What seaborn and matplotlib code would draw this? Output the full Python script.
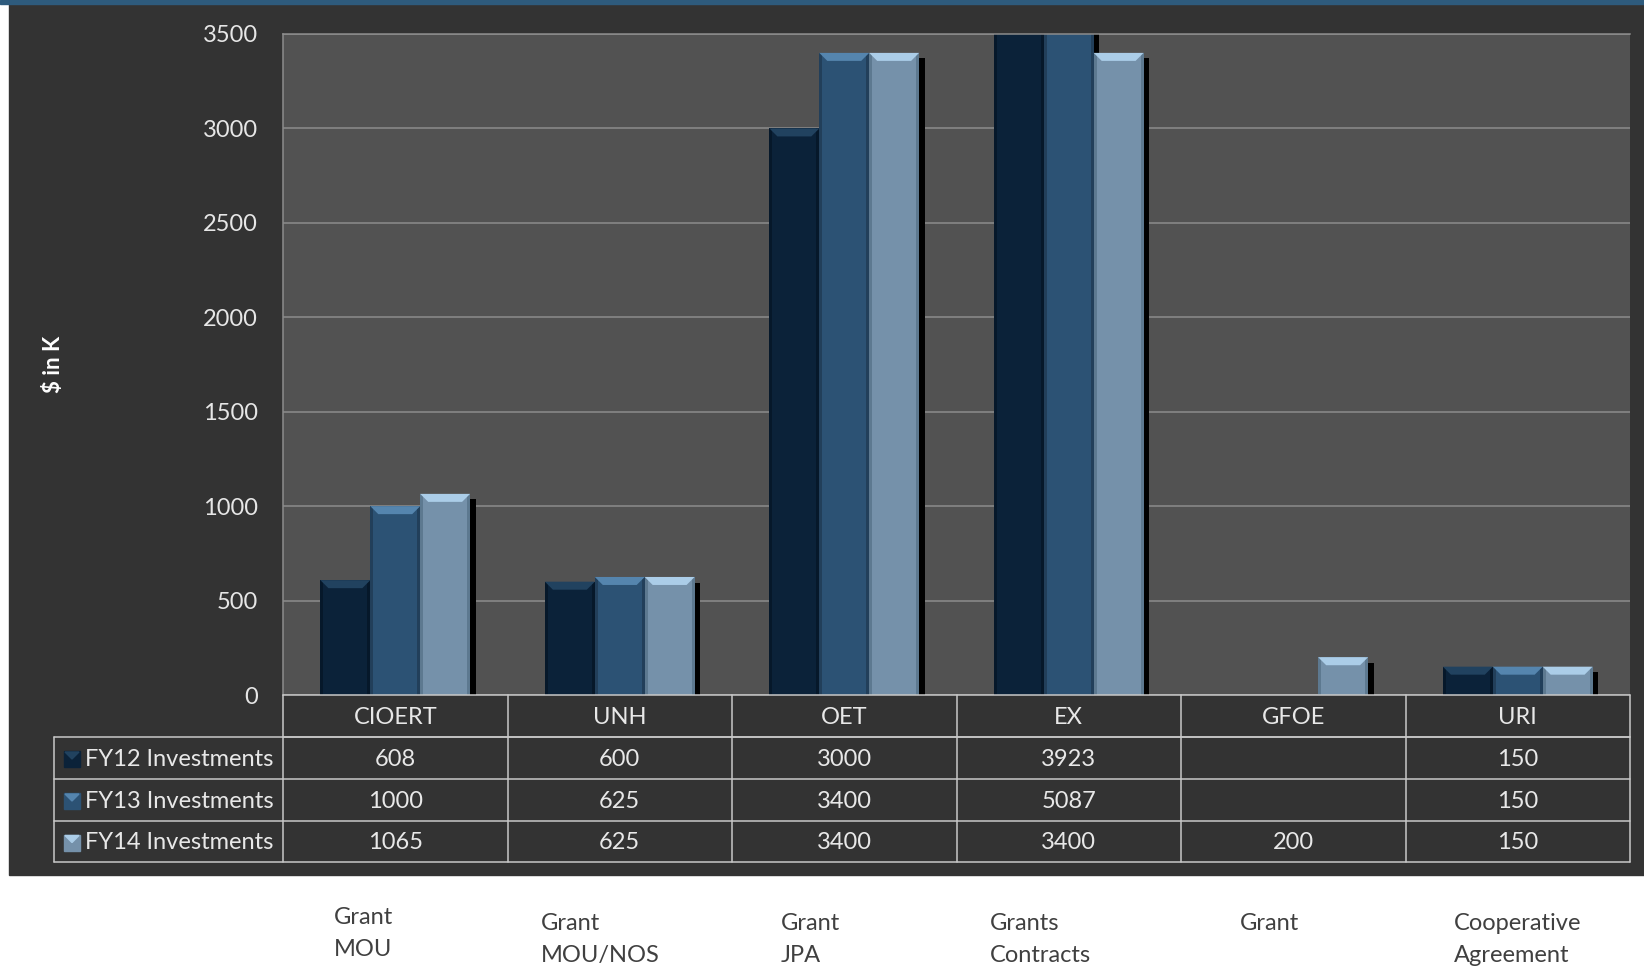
import numpy as np
import pandas as pd
import seaborn as sns
import matplotlib.pyplot as plt
from matplotlib import patheffects
from matplotlib.colors import to_rgba
from matplotlib.patches import Rectangle, Polygon
from matplotlib.lines import Line2D
from matplotlib.transforms import blended_transform_factory

# data
partners = ["CIOERT", "UNH", "OET", "EX", "GFOE", "URI"]
fy12 = [608, 600, 3000, 3923, np.nan, 150]
fy13 = [1000, 625, 3400, 5087, np.nan, 150]
fy14 = [1065, 625, 3400, 3400, 200, 150]
series = ["FY12 Investments", "FY13 Investments", "FY14 Investments"]
funding_types = ["Grant\nMOU", "Grant\nMOU/NOS", "Grant\nJPA",
                 "Grants\nContracts", "Grant", "Cooperative\nAgreement"]
yticks = [0, 500, 1000, 1500, 2000, 2500, 3000, 3500]

colors = ["#0b2239", "#2c5274", "#7591aa"]
bevel_colors = ["#21425f", "#5585ae", "#abcde8"]
side_colors = ["#06182a", "#223f5a", "#5d7990"]

rows = []
for name, vals in zip(series, [fy12, fy13, fy14]):
    for p, v in zip(partners, vals):
        rows.append({"partner": p, "series": name, "value": v})
df = pd.DataFrame(rows)

sns.set_style("dark")
plt.rcParams["font.family"] = ["Lato", "DejaVu Sans"]

W, H = 1644, 968
fig = plt.figure(figsize=(W / 100, H / 100), dpi=100)
fig.patch.set_facecolor("white")


def fx(px):
    return px / W


def fy(py):
    return 1 - py / H


# dark slide panel and blue stripe
fig.add_artist(Rectangle((fx(9), fy(875)), fx(W - 9), (875 - 4) / H,
                         transform=fig.transFigure, color="#333333", zorder=-10))
fig.add_artist(Rectangle((0, fy(4)), 1, 4 / H, transform=fig.transFigure,
                         color="#2e5b7d", zorder=-9))

L, R, T, B = 283, 1630, 34, 695
ax = fig.add_axes([fx(L), fy(B), fx(R - L), (B - T) / H])
ax.set_facecolor("#525252")

sns.barplot(data=df, x="partner", y="value", hue="series", order=partners,
            hue_order=series, palette=colors, width=2 / 3, saturation=1,
            linewidth=0, errorbar=None, legend=False, ax=ax)

ax.set_ylim(0, 3500)
ax.set_xlim(-0.5, len(partners) - 0.5)
ax.set_yticks(yticks)
ax.yaxis.grid(True, color="#8c8c8c", lw=1.1)
ax.xaxis.grid(False)
ax.set_axisbelow(True)
ax.tick_params(axis="y", length=0, pad=18, labelsize=17, labelcolor="#e6e6e6")
ax.tick_params(axis="x", bottom=False, labelbottom=False)
ax.set_xlabel("")
ax.set_ylabel(r"\$ in K", fontsize=16, fontweight="bold", color="white")
ax.yaxis.set_label_coords((64 - L) / (R - L), 0.5)
for side in ["left", "top"]:
    ax.spines[side].set_visible(True)
    ax.spines[side].set_color("#8c8c8c")
    ax.spines[side].set_linewidth(1.1)
ax.spines["right"].set_visible(False)
ax.spines["bottom"].set_visible(False)

# bevel tops, thin dark sides and drop shadows
ppu_x = (R - L) / len(partners)
ppu_y = (B - T) / 3500
dx = 8 / ppu_x
dy = 8 / ppu_y
rgba = [to_rgba(c) for c in colors]
for p in list(ax.patches):
    h = p.get_height()
    if not np.isfinite(h) or h <= 0:
        continue
    fc = p.get_facecolor()
    k = int(np.argmin([np.sum(np.abs(np.array(fc) - np.array(c))) for c in rgba]))
    p.set_path_effects([patheffects.SimplePatchShadow(offset=(4, -4), shadow_rgbFace="black", alpha=1.0),
                        patheffects.Normal()])
    x0, w = p.get_x(), p.get_width()
    sx = 3 / ppu_x
    ax.add_patch(Rectangle((x0, 0), sx, h, facecolor=side_colors[k], edgecolor="none", zorder=2.5))
    ax.add_patch(Rectangle((x0 + w - sx, 0), sx, h, facecolor=side_colors[k], edgecolor="none", zorder=2.5))
    ax.add_patch(Polygon([(x0, h), (x0 + w, h), (x0 + w - dx, h - dy), (x0 + dx, h - dy)],
                         closed=True, facecolor=bevel_colors[k], edgecolor="none", zorder=3))

# data table under the plot
tr = blended_transform_factory(ax.transData, fig.transFigure)
line_kw = dict(color="#c8c8c8", lw=1.1)
row_y = [695, 737, 779, 821, 862]
for i in range(len(partners) + 1):
    fig.add_artist(Line2D([i - 0.5, i - 0.5], [fy(row_y[0]), fy(row_y[-1])], transform=tr, **line_kw))
for yy in row_y[:2]:
    fig.add_artist(Line2D([-0.5, len(partners) - 0.5], [fy(yy), fy(yy)], transform=tr, **line_kw))
for yy in row_y[1:]:
    fig.add_artist(Line2D([fx(54), fx(R)], [fy(yy), fy(yy)], transform=fig.transFigure, **line_kw))
fig.add_artist(Line2D([fx(54), fx(54)], [fy(row_y[1]), fy(row_y[-1])], transform=fig.transFigure, **line_kw))

txt_kw = dict(fontsize=17, color="#e8e8e8", va="center")
hc = (row_y[0] + row_y[1]) / 2 + 2
for i, p in enumerate(partners):
    fig.text(i, fy(hc), p, transform=tr, ha="center", **txt_kw)
for r, (name, vals) in enumerate(zip(series, [fy12, fy13, fy14])):
    yc = (row_y[r + 1] + row_y[r + 2]) / 2 + 1
    for i, v in enumerate(vals):
        if np.isfinite(v):
            fig.text(i, fy(yc), f"{int(v)}", transform=tr, ha="center", **txt_kw)
    fig.add_artist(Rectangle((fx(64), fy(yc + 8)), fx(16), 16 / H, transform=fig.transFigure,
                             color=colors[r]))
    fig.add_artist(Polygon([(fx(65), fy(yc - 7)), (fx(79), fy(yc - 7)), (fx(72), fy(yc))],
                           closed=True, transform=fig.transFigure, color=bevel_colors[r]))
    fig.text(fx(85), fy(yc), name, ha="left", **txt_kw)

# funding type notes below the slide panel
note_left_px = [334, 541, 781, 990, 1240, 1454]
note_base_px = [924, 930, 930, 930, 930, 930]
for x0, b0, note in zip(note_left_px, note_base_px, funding_types):
    for k, line in enumerate(note.split("\n")):
        fig.text(fx(x0), fy(b0 + 32 * k), line, fontsize=17, color="#404040",
                 ha="left", va="baseline")

fig.savefig("out.png", dpi=100, facecolor=fig.get_facecolor())
